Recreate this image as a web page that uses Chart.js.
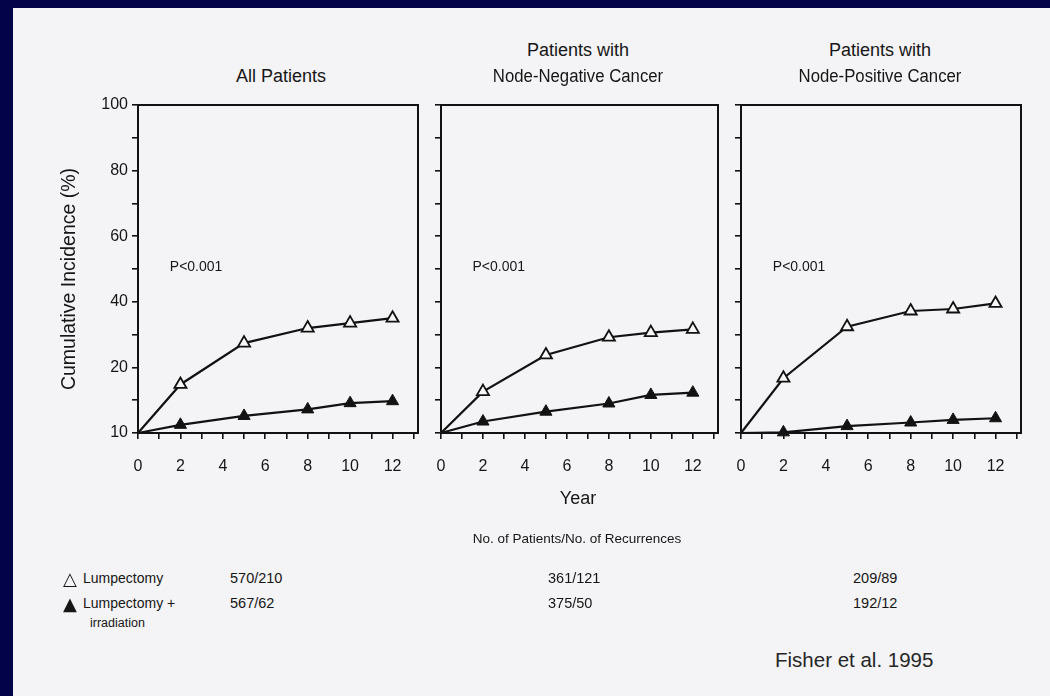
<!DOCTYPE html>
<html>
<head>
<meta charset="utf-8">
<script src="https://cdn.jsdelivr.net/npm/chart.js@4/dist/chart.umd.min.js"></script>
<style>
  html, body { margin: 0; padding: 0; }
  body { width: 1050px; height: 696px; background: #03034a; position: relative; overflow: hidden;
         font-family: "Liberation Sans", Arial, sans-serif; color: #161616; }
  #paper { position: absolute; left: 13px; top: 8px; width: 1037px; height: 688px; background: #f4f3f5; }
  .box { position: absolute; }
  .t { position: absolute; white-space: nowrap; transform: translate(-50%, -50%); }
  .l { position: absolute; white-space: nowrap; transform: translate(0, -50%); }
</style>
</head>
<body>
<div id="paper"></div>
<div class="box" style="left:0px;top:90px;width:425px;height:400px"><canvas id="c1" width="425" height="400"></canvas></div>
<div class="box" style="left:420px;top:90px;width:305px;height:400px"><canvas id="c2" width="305" height="400"></canvas></div>
<div class="box" style="left:720px;top:90px;width:310px;height:400px"><canvas id="c3" width="310" height="400"></canvas></div>
<div id="texts"></div>
<script>
// ---- data ----
const years = [0, 2, 5, 8, 10, 12];
const panelTitles = [["All Patients"], ["Patients with", "Node-Negative Cancer"], ["Patients with", "Node-Positive Cancer"]];
const allLump   = [0, 14.8, 27.4, 32.0, 33.5, 35.0];
const allLumpRT = [0, 2.5, 5.2, 7.2, 9.1, 9.7];
const negLump   = [0, 12.6, 23.8, 29.2, 30.6, 31.6];
const negLumpRT = [0, 3.5, 6.5, 9.0, 11.6, 12.3];
const posLump   = [0, 16.7, 32.4, 37.2, 37.8, 39.5];
const posLumpRT = [0, 0.2, 2.1, 3.2, 4.0, 4.5];
const yTickLabels = {0: "10", 20: "20", 40: "40", 60: "60", 80: "80", 100: "100"};
const xTickLabels = [0, 2, 4, 6, 8, 10, 12];
const seriesNames = ["Lumpectomy", "Lumpectomy + irradiation"];
const lumpCounts = ["570/210", "361/121", "209/89"];
const lumpRTCounts = ["567/62", "375/50", "192/12"];
const pText = "P<0.001";

const INK = "#121212";
const FONT = "Liberation Sans";

const boxPlugin = {
  id: 'boxPlugin',
  afterDatasetsDraw(chart) {
    const a = chart.chartArea, ctx = chart.ctx;
    ctx.save();
    ctx.strokeStyle = INK; ctx.lineWidth = 2;
    ctx.strokeRect(a.left, a.top, a.right - a.left, a.bottom - a.top);
    ctx.fillStyle = "#181818";
    ctx.font = "14px '" + FONT + "'";
    ctx.textBaseline = "middle";
    const xs = chart.scales.x, ys = chart.scales.y;
    ctx.fillText(pText, xs.getPixelForValue(1.5), ys.getPixelForValue(50.5));
    ctx.restore();
  }
};

function makeChart(id, lump, lumpRT, yWidth, padRight, showYLabels) {
  const pr = [0, 7, 7, 7, 7, 7];
  return new Chart(document.getElementById(id), {
    type: 'line',
    data: {
      datasets: [
        { label: seriesNames[0], data: years.map((x, i) => ({x, y: lump[i]})),
          borderColor: INK, borderWidth: 2.2, backgroundColor: "#ffffff",
          pointStyle: 'triangle', pointRadius: pr, pointBorderWidth: 1.8,
          pointBorderColor: INK, pointBackgroundColor: "#f8f8f8", tension: 0, clip: false },
        { label: seriesNames[1], data: years.map((x, i) => ({x, y: lumpRT[i]})),
          borderColor: INK, borderWidth: 2.2, backgroundColor: INK,
          pointStyle: 'triangle', pointRadius: pr, pointBorderWidth: 1,
          pointBorderColor: INK, pointBackgroundColor: INK, tension: 0, clip: false }
      ]
    },
    options: {
      responsive: false, animation: false, events: [],
      layout: { autoPadding: false, padding: { top: 15, right: padRight, left: 0, bottom: 0 } },
      plugins: { legend: { display: false }, tooltip: { enabled: false } },
      scales: {
        x: {
          type: 'linear', min: 0, max: 13.2,
          afterFit(s) { s.height = 57; s.paddingLeft = 0; s.paddingRight = 0; },
          grid: { drawOnChartArea: false, drawTicks: true, tickLength: 6, color: INK, lineWidth: 1.6 },
          border: { display: true, color: INK, width: 2 },
          ticks: { stepSize: 1, includeBounds: false, maxRotation: 0, autoSkip: false, padding: 18,
                   color: "#161616", font: { family: FONT, size: 16 },
                   callback: v => xTickLabels.includes(v) ? String(v) : '' }
        },
        y: {
          type: 'linear', min: 0, max: 100,
          afterFit(s) { s.width = yWidth; s.paddingTop = 0; s.paddingBottom = 0; },
          grid: { drawOnChartArea: false, drawTicks: true, tickLength: 6, color: INK, lineWidth: 1.6 },
          border: { display: true, color: INK, width: 2 },
          ticks: { stepSize: 10, autoSkip: false, padding: 4,
                   color: "#161616", font: { family: FONT, size: 16 },
                   callback: v => (showYLabels && yTickLabels[v] !== undefined) ? yTickLabels[v] : '' }
        }
      }
    },
    plugins: [boxPlugin]
  });
}

makeChart('c1', allLump, allLumpRT, 138, 7, true);
makeChart('c2', negLump, negLumpRT, 21, 7, false);
makeChart('c3', posLump, posLumpRT, 21, 9, false);

// ---- text ----
const T = document.getElementById('texts');
function txt(s, x, y, size, cls, extra) {
  const d = document.createElement('div');
  d.className = cls || 't';
  d.textContent = s;
  d.style.left = x + 'px'; d.style.top = y + 'px'; d.style.fontSize = size + 'px';
  if (extra) Object.assign(d.style, extra);
  T.appendChild(d);
  return d;
}
const titleCenters = [281, 578, 880];
panelTitles.forEach((lines, i) => {
  if (lines.length === 1) txt(lines[0], titleCenters[i], 76, 18);
  else { txt(lines[0], titleCenters[i], 50, 18); txt(lines[1], titleCenters[i], 76, 18, 't', { transform: 'translate(-50%,-50%) scaleX(0.93)' }); }
});
txt("Cumulative Incidence (%)", 68, 279, 19.5, 't', { transform: 'translate(-50%,-50%) rotate(-90deg)' });
txt("Year", 578, 498, 18);
txt("No. of Patients/No. of Recurrences", 577, 538, 13.5);
txt("\u25B3", 63, 578, 18, 'l', { fontFamily: 'DejaVu Sans' });
txt("Lumpectomy", 83, 578, 14, 'l');
txt("\u25B2", 63, 603, 18, 'l', { fontFamily: 'DejaVu Sans' });
txt("Lumpectomy +", 83, 603, 14, 'l');
txt("irradiation", 90, 623, 12.5, 'l');
const countX = [230, 548, 853];
lumpCounts.forEach((s, i) => txt(s, countX[i], 578, 14.5, 'l'));
lumpRTCounts.forEach((s, i) => txt(s, countX[i], 603, 14.5, 'l'));
txt("Fisher et al. 1995", 775, 660, 20.5, 'l', { color: '#262626' });
</script>
</body>
</html>
